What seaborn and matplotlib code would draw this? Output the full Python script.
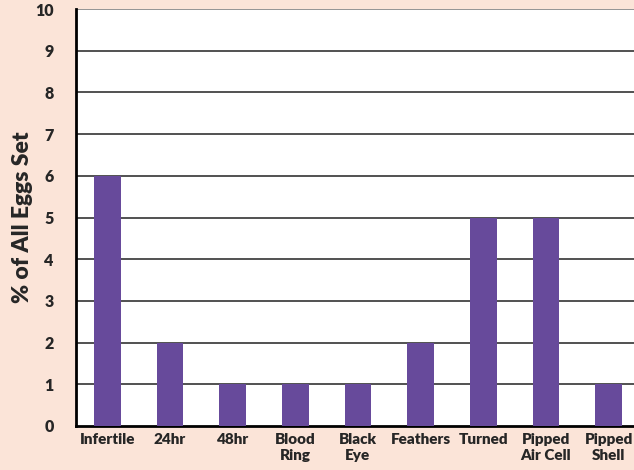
"""Egg breakout chart: percentage of all eggs set by stage."""

import matplotlib.pyplot as plt
import pandas as pd
import seaborn as sns

categories = ["Infertile", "24hr", "48hr", "Blood\nRing", "Black\nEye",
              "Feathers", "Turned", "Pipped\nAir Cell", "Pipped\nShell"]
percent_set = [6, 2, 1, 1, 1, 2, 5, 5, 1]

BG = "#fbe4d8"
BAR = "#674a9b"


def plot_chart() -> None:
    df = pd.DataFrame({"stage": categories, "pct": percent_set})

    sns.set_style("white")
    plt.rcParams["font.family"] = ["Lato", "DejaVu Sans"]

    fig = plt.figure(figsize=(6.34, 4.70), dpi=100, facecolor=BG)
    ax = fig.add_axes([76 / 634, 1 - 426 / 470, (640 - 76) / 634, (426 - 9) / 470])
    ax.set_facecolor("white")

    sns.barplot(data=df, x="stage", y="pct", color=BAR, width=0.43,
                saturation=1, linewidth=0, edgecolor=BAR, ax=ax, zorder=3)

    ax.set_ylim(0, 10)
    ax.set_xlim(-0.5, len(categories) - 0.5)
    ax.set_yticks(range(0, 11))
    for v in range(1, 11):
        ax.axhline(v, color="#222222" if v < 10 else "#777777", lw=1.1, zorder=1)

    # y ticks outward, x ticks between categories
    ax.tick_params(axis="y", direction="out", length=7, width=1, color="black",
                   pad=9, labelsize=11.5)
    ax.set_yticklabels([str(v) for v in range(0, 11)], fontweight="heavy")
    ax.set_xticks([i + 0.5 for i in range(len(categories) - 1)], minor=True)
    ax.set_xticks(range(len(categories)))
    ax.set_xticklabels(categories, fontweight="heavy", fontsize=11, linespacing=1.3)
    ax.tick_params(axis="x", which="major", length=0, pad=5)
    ax.tick_params(axis="x", which="minor", direction="out", length=7, width=1,
                   color="#333333")

    for side in ["top", "right"]:
        ax.spines[side].set_visible(False)
    ax.spines["left"].set_linewidth(2)
    ax.spines["bottom"].set_linewidth(2)
    ax.spines["left"].set_color("black")
    ax.spines["bottom"].set_color("black")

    ax.set_xlabel("")
    ax.set_ylabel("% of All Eggs Set", fontsize=16.5, fontweight="heavy")
    ax.yaxis.set_label_coords(-0.076, 0.5)

    fig.savefig("out.png", dpi=100, facecolor=BG)
    plt.close(fig)


if __name__ == "__main__":
    plot_chart()
